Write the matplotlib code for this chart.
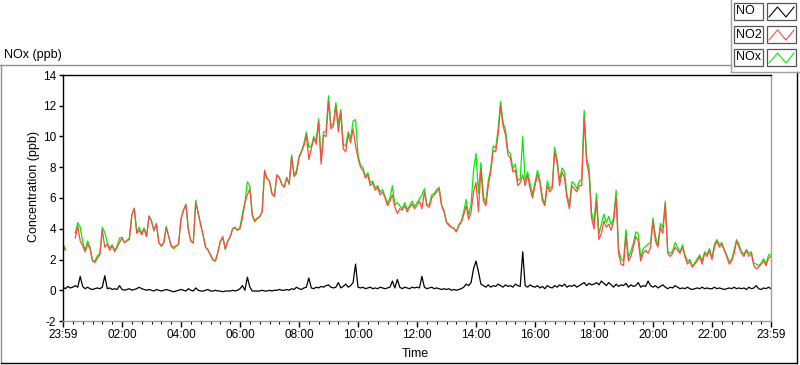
import numpy as np
import matplotlib
matplotlib.use("Agg")
import matplotlib.pyplot as plt
from matplotlib.lines import Line2D
from matplotlib.patches import Rectangle

nan = np.nan

# 5-minute readings, 23:59 -> 23:59 (one row per hour)
no2_ppb = [
    2.8, 2.6, nan, nan, nan, 3.4, 4.2, 3.2, 2.9, 2.5, 3.0, 2.7,
    1.9, 1.8, 2.1, 2.3, 3.9, 2.8, 3.0, 2.6, 2.9, 2.5, 2.8, 3.1,
    3.4, 3.1, 3.2, 3.3, 4.9, 5.3, 3.7, 3.9, 3.6, 4.0, 3.5, 4.8,
    4.5, 3.9, 4.3, 3.1, 2.9, 3.1, 4.1, 3.5, 2.9, 2.8, 2.9, 3.0,
    4.6, 5.2, 5.6, 3.9, 3.2, 3.1, 5.7, 5.0, 4.3, 3.6, 2.8, 2.6,
    2.3, 2.0, 1.9, 2.5, 3.2, 3.5, 2.7, 3.2, 3.5, 4.0, 4.1, 3.9,
    4.0, 4.7, 5.7, 6.2, 6.6, 4.9, 4.5, 4.7, 4.8, 5.1, 7.8, 7.3,
    7.1, 6.3, 6.1, 7.5, 7.3, 6.9, 6.7, 7.3, 6.9, 8.7, 7.4, 7.6,
    8.6, 9.0, 9.4, 10.1, 8.5, 9.2, 9.9, 9.5, 11.0, 8.2, 10.1, 10.0,
    12.3, 10.5, 10.7, 12.0, 10.3, 11.6, 9.2, 9.0, 10.1, 9.6, 10.5, 9.4,
    8.6, 8.0, 7.8, 7.3, 7.5, 6.8, 7.0, 6.5, 6.7, 6.2, 6.4, 6.0,
    5.5, 5.8, 6.2, 5.4, 5.0, 5.3, 5.2, 5.5, 5.1, 5.4, 5.6, 5.3,
    5.5, 5.8, 5.3, 6.4, 5.5, 5.4, 6.0, 6.2, 6.4, 6.6, 5.5, 5.1,
    4.4, 4.2, 4.1, 4.0, 3.8, 4.2, 4.4, 4.9, 5.5, 4.6, 5.1, 6.4,
    7.0, 5.1, 7.9, 5.8, 5.5, 6.8, 7.7, 9.1, 9.0, 10.1, 12.0, 10.7,
    10.1, 8.8, 8.6, 7.7, 7.8, 6.8, 7.0, 7.5, 6.8, 7.5, 6.6, 6.0,
    6.8, 7.5, 7.0, 5.8, 5.5, 6.8, 6.4, 6.6, 9.0, 8.3, 6.8, 7.7,
    7.3, 6.0, 5.3, 6.8, 6.6, 6.4, 6.8, 6.8, 11.2, 8.3, 7.5, 4.7,
    4.0, 5.8, 3.3, 3.7, 4.5, 4.1, 4.3, 3.9, 4.5, 6.1, 2.4, 1.7,
    1.6, 3.5, 1.9, 2.2, 2.8, 3.5, 3.2, 1.9, 2.4, 2.6, 2.4, 2.8,
    4.5, 3.2, 2.8, 4.1, 3.7, 5.6, 2.4, 2.2, 2.4, 2.8, 2.6, 2.4,
    2.8, 2.2, 1.7, 1.9, 1.5, 1.7, 1.9, 2.2, 1.7, 2.4, 2.2, 2.6,
    2.0, 2.8, 3.2, 2.8, 3.0, 2.6, 2.2, 1.7, 1.9, 2.4, 3.2, 2.8,
    2.4, 2.2, 2.6, 2.2, 2.4, 1.6, 1.4, 1.5, 1.7, 1.9, 1.6, 2.1, 2.2,
]

no_ppb = [
    0.2, 0.1, 0.25, 0.15, 0.2, 0.3, 0.2, 0.9, 0.25, 0.1, 0.2, 0.1,
    0.05, 0.1, 0.15, 0.1, 0.2, 0.95, 0.1, 0.15, 0.05, 0.1, 0.05, 0.3,
    0.05, 0.0, 0.05, 0.1, 0.0, 0.05, 0.1, 0.2, 0.1, 0.05, 0.0, 0.05,
    0.0, -0.05, 0.05, 0.0, -0.05, 0.0, 0.05, 0.0, -0.05, -0.1, -0.05, 0.0,
    0.05, 0.0, -0.05, 0.1, 0.0, -0.05, 0.15, 0.0, -0.05, -0.05, 0.0, 0.05,
    -0.05, -0.05, 0.0, -0.05, -0.05, -0.1, -0.05, -0.05, -0.05, 0.0, -0.05, 0.0,
    0.1, 0.3, 0.0, 0.85, 0.2, -0.05, -0.05, -0.05, -0.05, 0.0, -0.05, -0.05,
    0.0, -0.05, 0.0, 0.0, 0.05, 0.0, 0.0, 0.05, 0.0, 0.1, 0.05, 0.2,
    0.1, 0.05, 0.15, 0.2, 0.8, 0.15, 0.1, 0.2, 0.15, 0.25, 0.2, 0.3,
    0.35, 0.2, 0.15, 0.2, 0.5, 0.15, 0.25, 0.4, 0.2, 0.3, 0.5, 1.7,
    0.2, 0.15, 0.2, 0.1, 0.15, 0.2, 0.1, 0.15, 0.1, 0.2, 0.15, 0.1,
    0.15, 0.2, 0.6, 0.15, 0.7, 0.2, 0.1, 0.2, 0.15, 0.1, 0.2, 0.15,
    0.2, 0.15, 0.9, 0.2, 0.1, 0.15, 0.2, 0.1, 0.15, 0.1, 0.05, 0.1,
    0.05, 0.1, 0.0, 0.05, 0.0, 0.05, 0.1, 0.2, 0.4, 0.3, 0.5, 1.4,
    1.9, 1.2, 0.4, 0.3, 0.2, 0.35, 0.2, 0.3, 0.25, 0.4, 0.3, 0.2,
    0.35, 0.25, 0.3, 0.2, 0.4, 0.3, 0.25, 2.5, 0.3, 0.2, 0.35, 0.25,
    0.2, 0.3, 0.15, 0.25, 0.1, 0.3, 0.2, 0.15, 0.3, 0.2, 0.35, 0.25,
    0.4, 0.2, 0.3, 0.25, 0.35, 0.2, 0.3, 0.4, 0.5, 0.3, 0.45, 0.35,
    0.4, 0.5, 0.35, 0.6, 0.45, 0.3, 0.5, 0.35, 0.2, 0.4, 0.25, 0.35,
    0.3, 0.45, 0.2, 0.35, 0.25, 0.3, 0.5, 0.2, 0.3, 0.25, 0.6, 0.3,
    0.2, 0.3, 0.15, 0.25, 0.35, 0.2, 0.1, 0.2, 0.15, 0.3, 0.2, 0.1,
    0.15, 0.1, 0.2, 0.1, 0.05, 0.1, 0.15, 0.1, 0.2, 0.1, 0.15, 0.1,
    0.1, 0.2, 0.1, 0.15, 0.1, 0.05, 0.1, 0.15, 0.1, 0.2, 0.1, 0.15,
    0.1, 0.15, 0.05, 0.2, 0.1, 0.15, 0.3, 0.1, 0.05, 0.15, 0.1, 0.2, 0.1,
]

time_labels = ["23:59", "02:00", "04:00", "06:00", "08:00", "10:00", "12:00",
               "14:00", "16:00", "18:00", "20:00", "22:00", "23:59"]
series_names = ["NO", "NO2", "NOx"]
series_colors = ["#000000", "#ff4848", "#00ee00"]

no2 = np.array(no2_ppb)
no = np.array(no_ppb)
nox = no2 + no
hours = np.arange(len(no2)) / 12.0

plt.rcParams["font.family"] = ["Liberation Sans", "DejaVu Sans"]
plt.rcParams["axes.unicode_minus"] = False

W, H = 800, 365
fig = plt.figure(figsize=(W / 100, H / 100), dpi=100)
fig.patch.set_facecolor("white")


def fx(x):
    return x / W


def fy(y):
    return 1 - y / H


def fig_line(x0, y0, x1, y1, color, lw=1.0):
    fig.add_artist(Line2D([fx(x0), fx(x1)], [fy(y0), fy(y1)],
                          transform=fig.transFigure, color=color, lw=lw))


ax = fig.add_axes([fx(63), fy(321), fx(771) - fx(63), fy(75) - fy(321)])
ax.plot(hours, nox, color=series_colors[2], lw=0.9)
ax.plot(hours, no2, color=series_colors[1], lw=0.9)
ax.plot(hours, no, color=series_colors[0], lw=0.9)

ax.set_xlim(0, 24)
ax.set_ylim(-2, 14)
ax.set_xticks(np.arange(0, 25, 2))
ax.set_xticklabels(time_labels)
ax.set_xticks(np.arange(0, 24.01, 1 / 3), minor=True)
ax.set_yticks(np.arange(-2, 15, 2))
ax.tick_params(axis="x", which="major", length=4, width=1, pad=2, labelsize=8.5)
ax.tick_params(axis="x", which="minor", length=2.5, width=0.8)
ax.tick_params(axis="y", length=3, width=1, pad=2, labelsize=8.5)

ax.spines["left"].set_color("black")
ax.spines["top"].set_color("black")
ax.spines["right"].set_color("#a0a0a0")
ax.spines["bottom"].set_color("#a0a0a0")
for s in ax.spines.values():
    s.set_linewidth(1.0)

ax.set_ylabel("Concentration (ppb)", fontsize=9)
ax.yaxis.set_label_coords(-0.0325, 0.547)
ax.set_xlabel("Time", fontsize=9)
ax.xaxis.set_label_coords(0.497, -0.108)

# panel frame + title
fig.text(fx(4), fy(58), "NOx (ppb)", fontsize=9, va="baseline", ha="left")
fig_line(0, 65, 731, 65, "#909090")
fig_line(1, 65, 1, 363, "#909090")
fig_line(1, 363, 797, 363, "black")
fig_line(797, 72, 797, 363, "black")

# legend panel
fig_line(731, 0, 731, 72, "#a0a0a0")
fig_line(731, 72, 800, 72, "#a0a0a0")
for i, (name, col) in enumerate(zip(series_names, series_colors)):
    top = 3 + i * 23
    fig.add_artist(Rectangle((fx(734), fy(top + 17)), fx(29), 17 / H,
                             transform=fig.transFigure, facecolor="white",
                             edgecolor="#555555", lw=0.9))
    fig.add_artist(Rectangle((fx(767), fy(top + 17)), fx(29), 17 / H,
                             transform=fig.transFigure, facecolor="white",
                             edgecolor="#555555", lw=0.9))
    fig.text(fx(736), fy(top + 8.5), name, fontsize=9, va="center", ha="left")
    zx = [769, 777.5, 786, 794]
    zy = [top + 14, top + 4, top + 14, top + 4]
    fig.add_artist(Line2D([fx(v) for v in zx], [fy(v) for v in zy],
                          transform=fig.transFigure, color=col, lw=0.8))

fig.savefig("out.png", dpi=100)
